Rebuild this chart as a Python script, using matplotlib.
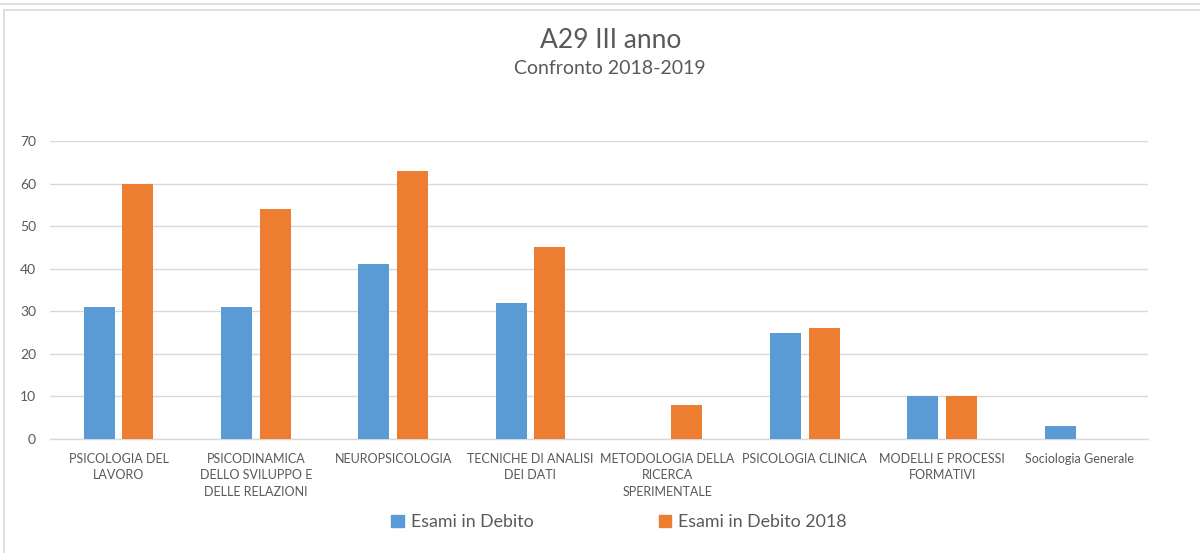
import matplotlib
matplotlib.use("Agg")
import matplotlib.pyplot as plt
from matplotlib.lines import Line2D
import numpy as np

plt.rcParams['font.family'] = ['Lato', 'DejaVu Sans']

categories = [
    "PSICOLOGIA DEL\nLAVORO",
    "PSICODINAMICA\nDELLO SVILUPPO E\nDELLE RELAZIONI",
    "NEUROPSICOLOGIA",
    "TECNICHE DI ANALISI\nDEI DATI",
    "METODOLOGIA DELLA\nRICERCA\nSPERIMENTALE",
    "PSICOLOGIA CLINICA",
    "MODELLI E PROCESSI\nFORMATIVI",
    "Sociologia Generale",
]
esami_debito = [31, 31, 41, 32, 0, 25, 10, 3]
esami_debito_2018 = [60, 54, 63, 45, 8, 26, 10, 0]
series_names = ["Esami in Debito", "Esami in Debito 2018"]
yticks = [0, 10, 20, 30, 40, 50, 60, 70]

blue = "#5B9BD5"
orange = "#ED7D31"
txt = "#595959"
grid = "#D9D9D9"

fig = plt.figure(figsize=(12, 5.53), dpi=100)
W, H = 1200, 553
ax = fig.add_axes([50 / W, 1 - 439 / H, 1098 / W, (439 - 141) / H])

x = np.arange(len(categories))
bw = 0.226
off = 0.14
ax.bar(x - off, esami_debito, bw, color=blue, label=series_names[0], zorder=3)
ax.bar(x + off, esami_debito_2018, bw, color=orange, label=series_names[1], zorder=3)

ax.set_xlim(-0.5, len(categories) - 0.5)
ax.set_ylim(0, 70)
ax.set_yticks(yticks)
ax.set_yticklabels([str(v) for v in yticks], color=txt, fontsize=10)
ax.yaxis.grid(True, color=grid, linewidth=1)
ax.set_axisbelow(True)
for s in ["top", "right", "left"]:
    ax.spines[s].set_visible(False)
ax.spines["bottom"].set_color(grid)
ax.spines["bottom"].set_linewidth(1)
ax.tick_params(axis="both", length=0)
ax.tick_params(axis="y", pad=10)
ax.set_xticks(x)
ax.set_xticklabels(categories, color=txt, fontsize=9, linespacing=1.45, va="top")
ax.tick_params(axis="x", pad=10)

fig.text(0.5085, 1 - 40 / H, "A29 III anno", ha="center", va="center",
         fontsize=19, color=txt)
fig.text(0.508, 1 - 68 / H, "Confronto 2018-2019", ha="center", va="center",
         fontsize=14, color=txt)

handles = [plt.Rectangle((0, 0), 1, 1, color=blue), plt.Rectangle((0, 0), 1, 1, color=orange)]
leg = fig.legend(handles, series_names, loc="center", bbox_to_anchor=(0.516, 1 - 522 / H),
                 ncol=2, frameon=False, fontsize=12.8, columnspacing=7.05,
                 handlelength=0.7, handleheight=0.7, handletextpad=0.4)
for t in leg.get_texts():
    t.set_color(txt)

# outer frame lines
fig.add_artist(Line2D([0, 1], [1 - 4 / H, 1 - 4 / H], transform=fig.transFigure, color="#D9D9D9", lw=1.2))
fig.add_artist(Line2D([4 / W, 1], [1 - 10 / H, 1 - 10 / H], transform=fig.transFigure, color="#D9D9D9", lw=1.2))
fig.add_artist(Line2D([4 / W, 4 / W], [0, 1 - 10 / H], transform=fig.transFigure, color="#D9D9D9", lw=1.2))

fig.savefig("out.png", dpi=100, facecolor="white")
